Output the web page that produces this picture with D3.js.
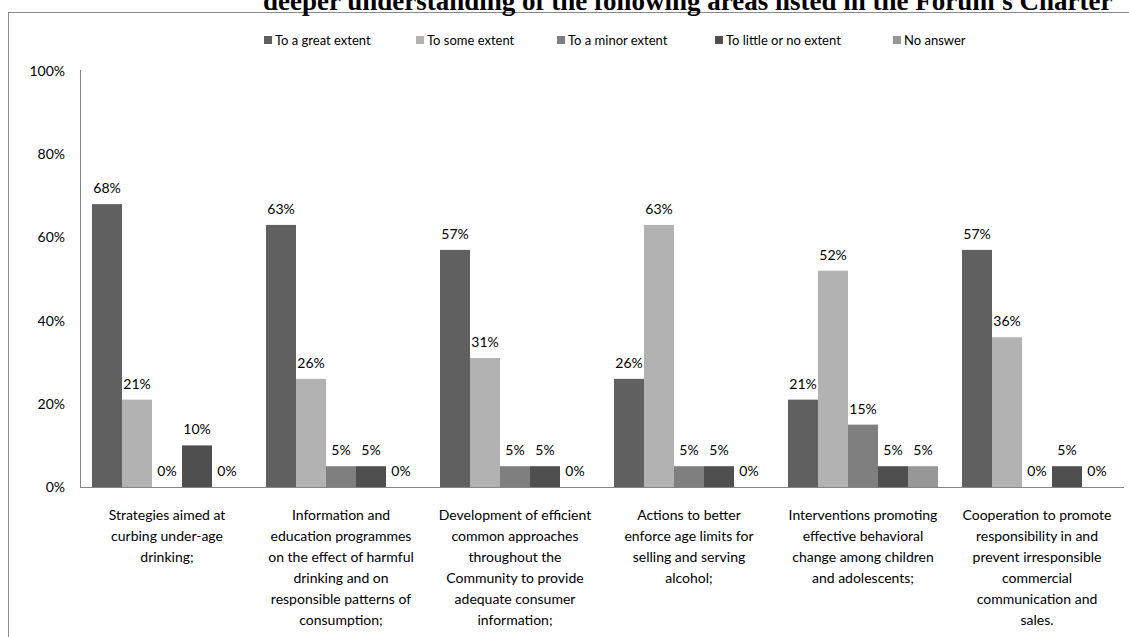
<!DOCTYPE html>
<html>
<head>
<meta charset="utf-8">
<script src="https://cdn.jsdelivr.net/npm/d3@7"></script>
<style>
  html, body { margin: 0; padding: 0; background: #fff; overflow: hidden; }
  svg { display: block; }
</style>
</head>
<body>
<svg id="chart" width="1129" height="637"></svg>
<script>
const categories = [
  ['Strategies aimed at', 'curbing under-age', 'drinking;'],
  ['Information and', 'education programmes', 'on the effect of harmful', 'drinking and on', 'responsible patterns of', 'consumption;'],
  ['Development of efficient', 'common approaches', 'throughout the', 'Community to provide', 'adequate consumer', 'information;'],
  ['Actions to better', 'enforce age limits  for', 'selling and  serving', 'alcohol;'],
  ['Interventions promoting', 'effective behavioral', 'change among children', 'and adolescents;'],
  ['Cooperation to promote', 'responsibility in and', 'prevent irresponsible', 'commercial', 'communication and', 'sales.']
];
const seriesNames = ['To a great extent', 'To some extent', 'To a minor extent', 'To little or no extent', 'No answer'];
const greatExtent = [68, 63, 57, 26, 21, 57];
const someExtent = [21, 26, 31, 63, 52, 36];
const minorExtent = [0, 5, 5, 5, 15, 0];
const littleExtent = [10, 5, 5, 5, 5, 5];
const noAnswer = [0, 0, 0, 0, 5, 0];
const yTicks = [0, 20, 40, 60, 80, 100];
const colors = ['#606060', '#b2b2b2', '#7f7f7f', '#4f4f4f', '#979797'];
const titleText = "deeper understanding of the following areas listed in the Forum's Charter";

const series = [greatExtent, someExtent, minorExtent, littleExtent, noAnswer];
const font = 'Lato, "Open Sans", sans-serif';

const svg = d3.select('#chart');

// outer chart frame (right and bottom edges run off the page)
svg.append('rect')
  .attr('x', 8.5).attr('y', 12.5)
  .attr('width', 1200).attr('height', 700)
  .attr('fill', 'none')
  .attr('stroke', '#8a8a8a')
  .attr('stroke-width', 1);

// title, mostly clipped at the top
svg.append('text')
  .attr('x', 263).attr('y', 10)
  .attr('font-family', '"Liberation Serif", "Times New Roman", serif')
  .attr('font-weight', 'bold')
  .attr('font-size', 27)
  .attr('fill', '#000')
  .text(titleText);

const margin = { top: 71, left: 80, right: 5, bottom: 150 };
const plotW = 1124 - margin.left;
const plotH = 487 - margin.top;

const x0 = d3.scaleBand().domain(d3.range(categories.length)).range([0, plotW]).paddingInner(24 / 174).paddingOuter(12 / 174);
const x1 = d3.scaleBand().domain(d3.range(series.length)).range([0, x0.bandwidth()]);
const y = d3.scaleLinear().domain([0, 100]).range([plotH, 0]);

const g = svg.append('g').attr('transform', `translate(${margin.left},${margin.top})`);

// y axis labels
const yAxis = g.append('g')
  .call(d3.axisLeft(y).tickValues(yTicks).tickFormat(d => d + '%').tickSize(0).tickPadding(15));
yAxis.select('.domain').remove();
yAxis.selectAll('text').attr('font-family', font).attr('font-size', 14).attr('fill', '#000');

// bars
const groups = g.selectAll('.grp')
  .data(categories)
  .join('g')
  .attr('class', 'grp')
  .attr('transform', (d, i) => `translate(${x0(i)},0)`);

groups.each(function (c, ci) {
  const grp = d3.select(this);
  series.forEach((s, si) => {
    const v = s[ci];
    if (v > 0) {
      grp.append('rect')
        .attr('x', x1(si))
        .attr('y', y(v))
        .attr('width', x1.bandwidth())
        .attr('height', y(0) - y(v))
        .attr('fill', colors[si]);
    }
    grp.append('text')
      .attr('x', x1(si) + x1.bandwidth() / 2)
      .attr('y', y(v) - 11)
      .attr('text-anchor', 'middle')
      .attr('font-family', font)
      .attr('font-size', 14)
      .attr('fill', '#000')
      .text(v + '%');
  });
});

// axis lines
g.append('line').attr('x1', 0.5).attr('x2', 0.5).attr('y1', -1).attr('y2', plotH).attr('stroke', '#868686');
g.append('line').attr('x1', 0).attr('x2', plotW).attr('y1', plotH + 0.5).attr('y2', plotH + 0.5).attr('stroke', '#868686');

// category labels
groups.append('text')
  .attr('text-anchor', 'middle')
  .attr('font-family', font)
  .attr('font-size', 14)
  .attr('fill', '#000')
  .selectAll('tspan')
  .data(d => d)
  .join('tspan')
  .attr('x', x0.bandwidth() / 2)
  .attr('y', (d, i) => plotH + 33 + i * 21)
  .text(d => d);

// legend
const legendX = [264, 416, 557, 715, 893];
const legend = svg.append('g').attr('transform', 'translate(0,40)');
seriesNames.forEach((name, i) => {
  legend.append('rect')
    .attr('x', legendX[i]).attr('y', -4)
    .attr('width', 8).attr('height', 8)
    .attr('fill', colors[i]);
  legend.append('text')
    .attr('x', legendX[i] + 11).attr('y', 5)
    .attr('font-family', font)
    .attr('font-size', 13)
    .attr('fill', '#000')
    .text(name);
});
</script>
</body>
</html>
